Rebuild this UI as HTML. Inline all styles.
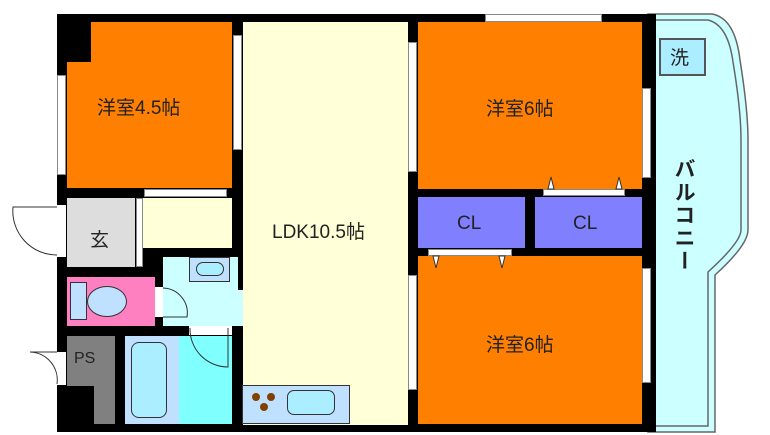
<!DOCTYPE html><html><head><meta charset="utf-8"><style>
body{margin:0;background:#fff;width:770px;height:435px;position:relative;overflow:hidden;font-family:"Liberation Sans","Noto Sans CJK JP",sans-serif}
div{position:absolute;box-sizing:border-box}
.t{color:#222;font-size:19px;white-space:nowrap}
.win{background:#fff;border:1px solid #888}
</style></head><body>
<svg style="position:absolute;left:0;top:0" width="770" height="435">
<path d="M648,14 L712,14 Q735,18 740,60 Q748,110 748,140 L748,230 Q748,245 715,275 L715,432 L648,432 Z" fill="#ccffff" stroke="#666" stroke-width="1.5"/>
<path d="M648,20 L708,20 Q728,25 733,62 Q741,110 741,140 L741,230 Q741,242 708,272 L708,426 L648,426" fill="none" stroke="#666" stroke-width="1.5"/>
</svg>
<!-- walls base -->
<div style="left:57px;top:14px;width:595px;height:418px;background:#000"></div>
<div style="left:652px;top:14px;width:4px;height:418px;background:#000"></div>
<!-- rooms -->
<div style="left:91px;top:22px;width:141px;height:40px;background:#ff8000"></div>
<div style="left:67px;top:62px;width:165px;height:126px;background:#ff8000"></div>
<div style="left:243px;top:22px;width:165px;height:403px;background:#ffffd8"></div>
<div style="left:143px;top:198px;width:89px;height:50px;background:#ffffd8"></div>
<div style="left:418px;top:22px;width:224px;height:167px;background:#ff8000"></div>
<div style="left:418px;top:197px;width:107px;height:51px;background:#8080ff"></div>
<div style="left:535px;top:197px;width:107px;height:51px;background:#8080ff"></div>
<div style="left:418px;top:256px;width:224px;height:168px;background:#ff8000"></div>
<div style="left:67px;top:198px;width:68px;height:69px;background:#ddd"></div>
<div style="left:136px;top:198px;width:7px;height:69px;background:#fff;border:1px solid #888"></div>
<div style="left:67px;top:277px;width:88px;height:49px;background:#ff80c0"></div>
<div style="left:163px;top:257px;width:75px;height:69px;background:#ccffff"></div>
<div style="left:232px;top:290px;width:11px;height:36px;background:#ccffff"></div>
<div style="left:67px;top:336px;width:48px;height:88px;background:#808080"></div>
<div style="left:57px;top:386px;width:37px;height:46px;background:#000"></div>
<div style="left:125px;top:336px;width:54px;height:88px;background:#bfe0ff"></div>
<div style="left:179px;top:336px;width:53px;height:88px;background:#80ffff"></div>
<div style="left:242px;top:385px;width:108px;height:39px;background:#bfe0ff;border:1px solid #333"></div>
<!-- fixtures -->
<div style="left:189px;top:257px;width:41px;height:25px;background:#bfe0ff;border:1px solid #333"></div>
<div style="left:196px;top:262px;width:28px;height:14px;background:#aef;border:1px solid #333;border-radius:7px"></div>
<div style="left:70px;top:282px;width:17px;height:38px;background:#bfe0ff;border:1px solid #333"></div>
<div style="left:87px;top:286px;width:40px;height:31px;background:#bfe0ff;border:1px solid #333;border-radius:50%"></div>
<div style="left:131px;top:342px;width:36px;height:76px;background:#aef;border:1px solid #333;border-radius:8px"></div>
<div style="left:287px;top:390px;width:48px;height:25px;background:#aef;border:1px solid #333;border-radius:7px"></div>
<div style="left:252px;top:393px;width:8px;height:8px;background:#804000;border-radius:50%"></div>
<div style="left:267px;top:393px;width:8px;height:8px;background:#804000;border-radius:50%"></div>
<div style="left:260px;top:403px;width:8px;height:8px;background:#804000;border-radius:50%"></div>
<div style="left:659px;top:38px;width:47px;height:38px;background:#aef;border:2px solid #555"></div>
<!-- windows -->
<div class="win" style="left:57px;top:75px;width:9px;height:100px"></div>
<div class="win" style="left:233px;top:35px;width:9px;height:115px"></div>
<div class="win" style="left:408px;top:42px;width:9px;height:130px"></div>
<div class="win" style="left:485px;top:14px;width:117px;height:8px"></div>
<div class="win" style="left:642px;top:88px;width:9px;height:90px"></div>
<div class="win" style="left:642px;top:268px;width:9px;height:115px"></div>
<div class="win" style="left:408px;top:275px;width:9px;height:115px"></div>
<div class="win" style="left:144px;top:189px;width:83px;height:8px"></div>
<div class="win" style="left:543px;top:189px;width:82px;height:7px"></div>
<div class="win" style="left:428px;top:249px;width:84px;height:7px"></div>
<div style="left:57px;top:205px;width:9px;height:52px;background:#fff"></div>
<div style="left:57px;top:352px;width:9px;height:33px;background:#fff"></div>
<div style="left:155px;top:287px;width:8px;height:30px;background:#fff"></div>
<div style="left:189px;top:326px;width:43px;height:9px;background:#fff"></div>
<svg style="position:absolute;left:0;top:0" width="770" height="435" fill="none" stroke="#333" stroke-width="1">
<path d="M57,207 L13,207 A44,44 0 0 0 57,255"/>
<path d="M57,352 L30,352 A28,28 0 0 1 57,384"/>
<path d="M163,288 A25,25 0 0 1 187,317 L163,317"/>
<path d="M190,328 A38,38 0 0 0 228,367 L228,328"/>
<path d="M548,189 l3,-12 l3,12z M616,189 l3,-12 l3,12z M433,256 l3,12 l3,-12z M499,256 l3,12 l3,-12z" fill="#fff"/>
</svg>
<!-- labels -->
<div class="t" style="left:97px;top:93px">洋室4.5帖</div>
<div class="t" style="left:272px;top:217px">LDK10.5帖</div>
<div class="t" style="left:486px;top:94px">洋室6帖</div>
<div class="t" style="left:486px;top:330px">洋室6帖</div>
<div class="t" style="left:457px;top:213px">CL</div>
<div class="t" style="left:573px;top:213px">CL</div>
<div class="t" style="left:90px;top:225px">玄</div>
<div class="t" style="left:74px;top:350px;font-size:16px">PS</div>
<div class="t" style="left:670px;top:43px">洗</div>
<div class="t" style="left:668px;top:158px;writing-mode:vertical-rl;font-size:21px;font-weight:bold;letter-spacing:2px">バルコニー</div>
</body></html>
